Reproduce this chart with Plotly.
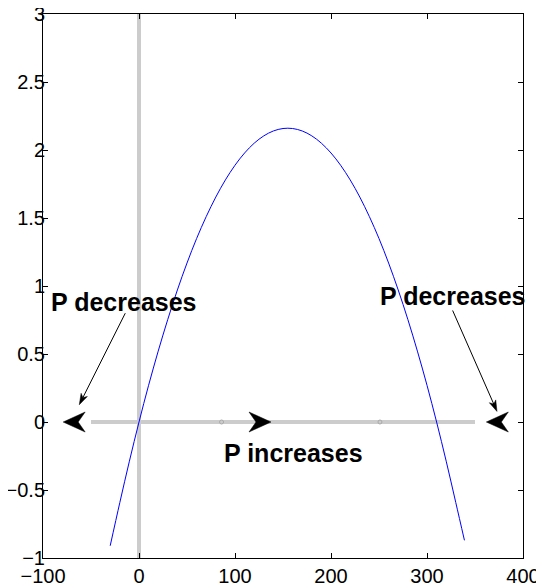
import math
import plotly.graph_objects as go

# ---- data ----
x_curve = [-30, -20, -10, 0, 10, 20, 30, 40, 50, 60, 70, 80, 90, 100, 110, 120, 130, 140,
           150, 160, 170, 180, 190, 200, 210, 220, 230, 240, 250, 260, 270, 280, 290, 300,
           310, 320, 330, 339]
y_curve = [-0.91, -0.593, -0.288, 0.0, 0.270, 0.521, 0.755, 0.971, 1.169, 1.349, 1.510, 1.654,
           1.780, 1.888, 1.978, 2.050, 2.104, 2.140, 2.158, 2.158, 2.140, 2.104, 2.050, 1.978,
           1.888, 1.780, 1.654, 1.510, 1.349, 1.169, 0.971, 0.755, 0.521, 0.270, 0.0, -0.288,
           -0.593, -0.87]

vline_x = [0, 0]
vline_y = [-1, 3]
hline_x = [-50, 350]
hline_y = [0, 0]
dot_x = [86, 251]
dot_y = [0, 0]

big_head_x = [-79, 137.5, 361.8]
big_head_y = [0, 0, 0]
big_head_dir = [-1, 1, -1]

thin_tail_x = [-14.3, 326.7]
thin_tail_y = [0.80, 0.82]
thin_tip_x = [-62.2, 372.9]
thin_tip_y = [0.127, 0.078]

label_text = ["P decreases", "P decreases", "P increases"]
label_x = [-15.4, 327.2, 161]
label_y = [0.886, 0.928, -0.226]

x_range = [-100, 400]
y_range = [-1, 3]
x_ticks = [-100, 0, 100, 200, 300, 400]
x_tick_text = ["\u2212100", "0", "100", "200", "300", "400"]
y_ticks = [-1, -0.5, 0, 0.5, 1, 1.5, 2, 2.5, 3]
y_tick_text = ["\u22121", "\u22120.5", "0", "0.5", "1", "1.5", "2", "2.5", "3"]

# ---- layout geometry (page body adds an 8px margin) ----
FW, FH = 536, 579
M = dict(l=35, r=21, t=6, b=29)
W = FW - M["l"] - M["r"]
H = FH - M["t"] - M["b"]
sx = W / (x_range[1] - x_range[0])
sy = H / (y_range[1] - y_range[0])

FONT = "Liberation Sans, Arial, Helvetica, sans-serif"


def head_polygon(tx, ty, fx, fy, length, half, notch):
    dxp = (tx - fx) * sx
    dyp = (ty - fy) * sy
    n = math.hypot(dxp, dyp)
    ux, uy = dxp / n, dyp / n
    px, py = -uy, ux
    pts = [(0, 0),
           (-length * ux + half * px, -length * uy + half * py),
           (-notch * ux, -notch * uy),
           (-length * ux - half * px, -length * uy - half * py),
           (0, 0)]
    xs = [tx + a / sx for a, b in pts]
    ys = [ty + b / sy for a, b in pts]
    notch_pt = (tx - notch * ux / sx, ty - notch * uy / sy)
    return xs, ys, notch_pt


fig = go.Figure()

# gray reference lines
fig.add_trace(go.Scatter(x=vline_x, y=vline_y, mode="lines",
                         line=dict(color="#cccccc", width=4), hoverinfo="skip"))
fig.add_trace(go.Scatter(x=hline_x, y=hline_y, mode="lines",
                         line=dict(color="#cccccc", width=4), hoverinfo="skip"))
fig.add_trace(go.Scatter(x=dot_x, y=dot_y, mode="markers",
                         marker=dict(symbol="circle-open", size=4, color="#aaaaaa",
                                     line=dict(width=1, color="#aaaaaa")),
                         hoverinfo="skip"))

# curve
fig.add_trace(go.Scatter(x=x_curve, y=y_curve, mode="lines",
                         line=dict(color="#0000ff", width=1, shape="spline"),
                         hoverinfo="skip"))

# big arrowheads
for hx, hy, d in zip(big_head_x, big_head_y, big_head_dir):
    xs, ys, _ = head_polygon(hx, hy, hx - d, hy, 22, 10, 15)
    fig.add_trace(go.Scatter(x=xs, y=ys, mode="lines", fill="toself",
                             fillcolor="black", line=dict(color="black", width=0.5),
                             hoverinfo="skip"))

# thin arrows
for ax_, ay_, tx, ty in zip(thin_tail_x, thin_tail_y, thin_tip_x, thin_tip_y):
    xs, ys, npt = head_polygon(tx, ty, ax_, ay_, 11, 3.5, 8)
    fig.add_trace(go.Scatter(x=[ax_, npt[0]], y=[ay_, npt[1]], mode="lines",
                             line=dict(color="black", width=1), hoverinfo="skip"))
    fig.add_trace(go.Scatter(x=xs, y=ys, mode="lines", fill="toself",
                             fillcolor="black", line=dict(color="black", width=0.5),
                             hoverinfo="skip"))

for t, lx, ly in zip(label_text, label_x, label_y):
    fig.add_annotation(x=lx, y=ly, xref="x", yref="y", text="<b>%s</b>" % t,
                       showarrow=False, xanchor="center", yanchor="middle",
                       font=dict(family=FONT, size=25, color="black"))

axis_common = dict(showline=True, linecolor="black", linewidth=1, mirror="ticks",
                   ticks="inside", ticklen=5, tickcolor="black", tickwidth=1,
                   showgrid=False, zeroline=False, automargin=False,
                   ticklabeloverflow="allow",
                   tickfont=dict(family=FONT, size=20, color="black"))

fig.update_xaxes(range=x_range, tickvals=x_ticks, ticktext=x_tick_text, **axis_common)
fig.update_yaxes(range=y_range, tickvals=y_ticks, ticktext=y_tick_text,
                 ticklabelstandoff=-7, **axis_common)

fig.update_layout(width=FW, height=FH, margin=M, showlegend=False,
                  plot_bgcolor="white", paper_bgcolor="white",
                  font=dict(family=FONT, color="black"))

fig.write_html("out.html")
